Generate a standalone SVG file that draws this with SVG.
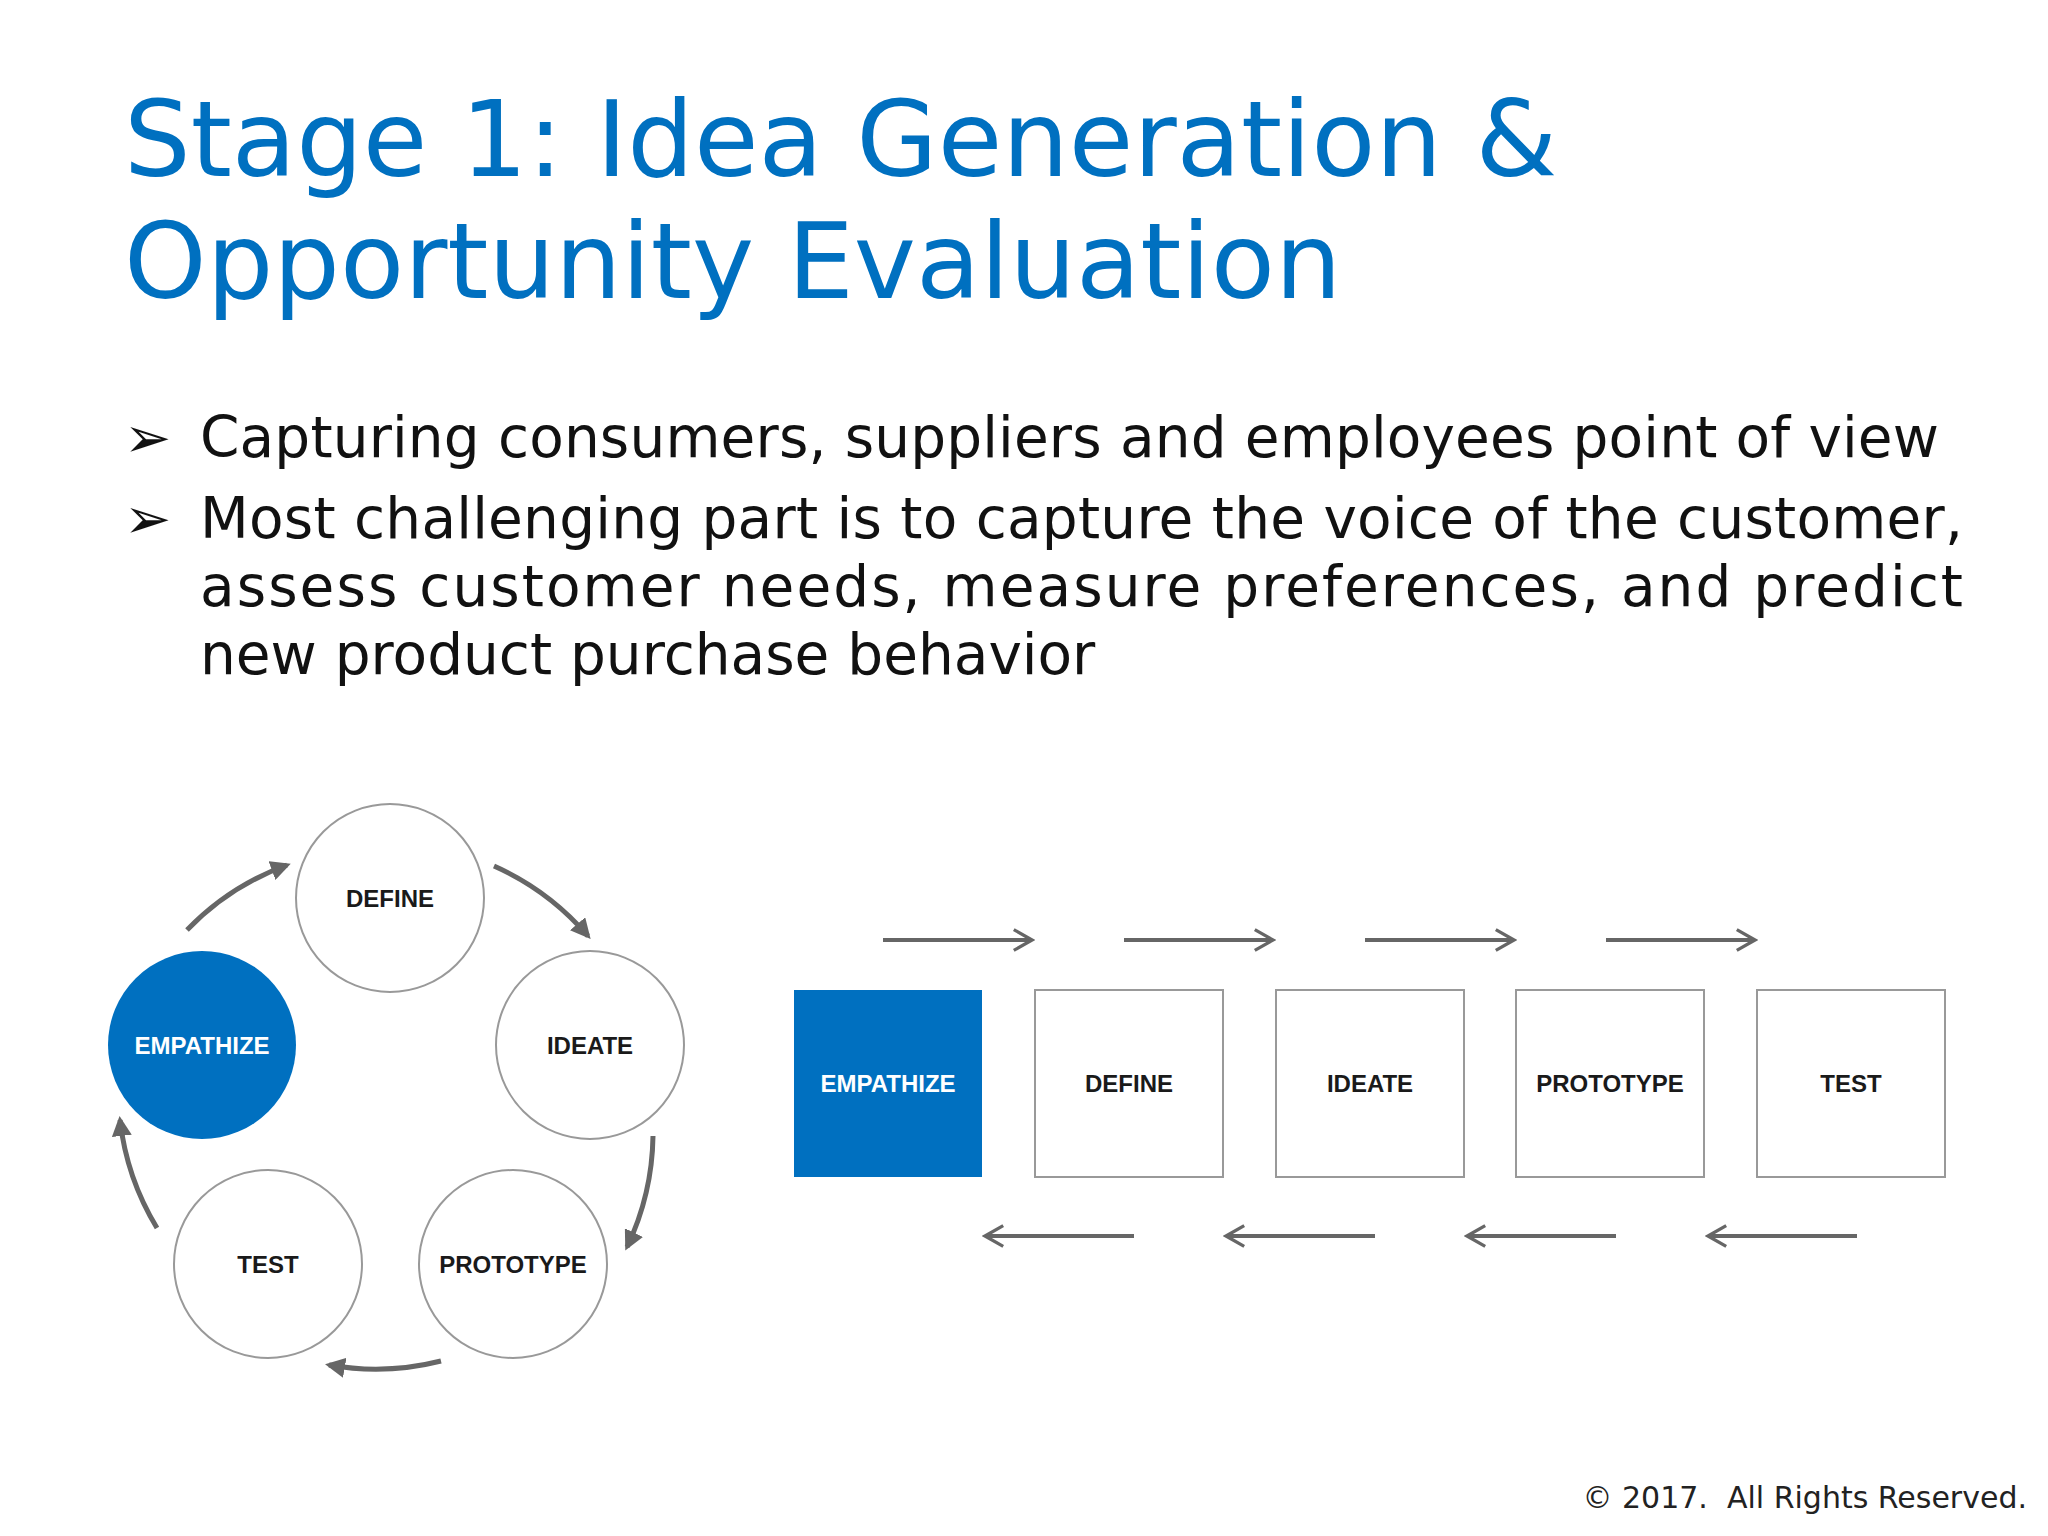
<svg xmlns="http://www.w3.org/2000/svg" width="2048" height="1536" viewBox="0 0 2048 1536">
<style>
.t{font-family:"DejaVu Sans",Verdana,sans-serif;fill:#0070C0;font-size:105px}
.b{font-family:"DejaVu Sans",Verdana,sans-serif;fill:#111;font-size:56.5px}
.lb{font-family:"Liberation Sans",Arial,sans-serif;font-weight:bold;font-size:24px;fill:#1a1a1a;text-anchor:middle}
.w{fill:#fff}
.c{fill:#fff;stroke:#999;stroke-width:2}
.a{fill:none;stroke:#666;stroke-width:5}
</style>
<defs>
<marker id="ah" viewBox="0 0 10 10" refX="8" refY="5" markerWidth="4" markerHeight="4" orient="auto"><path d="M0,0 L10,5 L0,10 z" fill="#666"/></marker>
<marker id="oh" viewBox="0 0 20 20" refX="18" refY="10" markerWidth="26" markerHeight="26" markerUnits="userSpaceOnUse" orient="auto"><path d="M4,2 L18,10 L4,18" fill="none" stroke="#666" stroke-width="2.5"/></marker>
</defs>
<rect width="2048" height="1536" fill="#fff"/>
<text class="t" x="124" y="176">Stage 1: Idea Generation &amp;</text>
<text class="t" x="124" y="298">Opportunity Evaluation</text>
<g id="bullets">
<text class="b" x="124" y="457">➢</text>
<text class="b" x="200" y="457" textLength="1739" lengthAdjust="spacing">Capturing consumers, suppliers and employees point of view</text>
<text class="b" x="124" y="538">➢</text>
<text class="b" x="200" y="538" textLength="1763" lengthAdjust="spacing">Most challenging part is to capture the voice of the customer,</text>
<text class="b" x="200" y="606" textLength="1763" lengthAdjust="spacing">assess customer needs, measure preferences, and predict</text>
<text class="b" x="200" y="674">new product purchase behavior</text>
</g>
<g id="connectors">
<path class="a" marker-end="url(#ah)" d="M187,930 A266 266 0 0 1 287,865"/>
<path class="a" marker-end="url(#ah)" d="M494,866 A266 266 0 0 1 588,936"/>
<path class="a" marker-end="url(#ah)" d="M653,1136 A266 266 0 0 1 627,1247"/>
<path class="a" marker-end="url(#ah)" d="M441,1361 A266 266 0 0 1 329,1365"/>
<path class="a" marker-end="url(#ah)" d="M157,1228 A266 266 0 0 1 120,1120"/>
<g stroke="#666" stroke-width="4">
<line x1="883" y1="940" x2="1032" y2="940" marker-end="url(#oh)"/>
<line x1="1124" y1="940" x2="1273" y2="940" marker-end="url(#oh)"/>
<line x1="1365" y1="940" x2="1514" y2="940" marker-end="url(#oh)"/>
<line x1="1606" y1="940" x2="1755" y2="940" marker-end="url(#oh)"/>
<line x1="1134" y1="1236" x2="985" y2="1236" marker-end="url(#oh)"/>
<line x1="1375" y1="1236" x2="1226" y2="1236" marker-end="url(#oh)"/>
<line x1="1616" y1="1236" x2="1467" y2="1236" marker-end="url(#oh)"/>
<line x1="1857" y1="1236" x2="1708" y2="1236" marker-end="url(#oh)"/>
</g>
</g>
<g id="c-define"><circle class="c" cx="390" cy="898" r="94"/><text class="lb" x="390" y="907">DEFINE</text></g>
<g id="c-ideate"><circle class="c" cx="590" cy="1045" r="94"/><text class="lb" x="590" y="1054">IDEATE</text></g>
<g id="c-prototype"><circle class="c" cx="513" cy="1264" r="94"/><text class="lb" x="513" y="1273">PROTOTYPE</text></g>
<g id="c-test"><circle class="c" cx="268" cy="1264" r="94"/><text class="lb" x="268" y="1273">TEST</text></g>
<g id="c-empathize"><circle cx="202" cy="1045" r="94" fill="#0070C0"/><text class="lb w" x="202" y="1054">EMPATHIZE</text></g>
<g id="s-empathize"><rect x="794" y="990" width="188" height="187" fill="#0070C0"/><text class="lb w" x="888" y="1092">EMPATHIZE</text></g>
<g id="s-define"><rect class="c" x="1035" y="990" width="188" height="187"/><text class="lb" x="1129" y="1092">DEFINE</text></g>
<g id="s-ideate"><rect class="c" x="1276" y="990" width="188" height="187"/><text class="lb" x="1370" y="1092">IDEATE</text></g>
<g id="s-prototype"><rect class="c" x="1516" y="990" width="188" height="187"/><text class="lb" x="1610" y="1092">PROTOTYPE</text></g>
<g id="s-test"><rect class="c" x="1757" y="990" width="188" height="187"/><text class="lb" x="1851" y="1092">TEST</text></g>
<text x="2027" y="1508" text-anchor="end" style="font-family:'DejaVu Sans',Verdana,sans-serif;font-size:30px;fill:#222;white-space:pre">© 2017.  All Rights Reserved.</text>
</svg>
